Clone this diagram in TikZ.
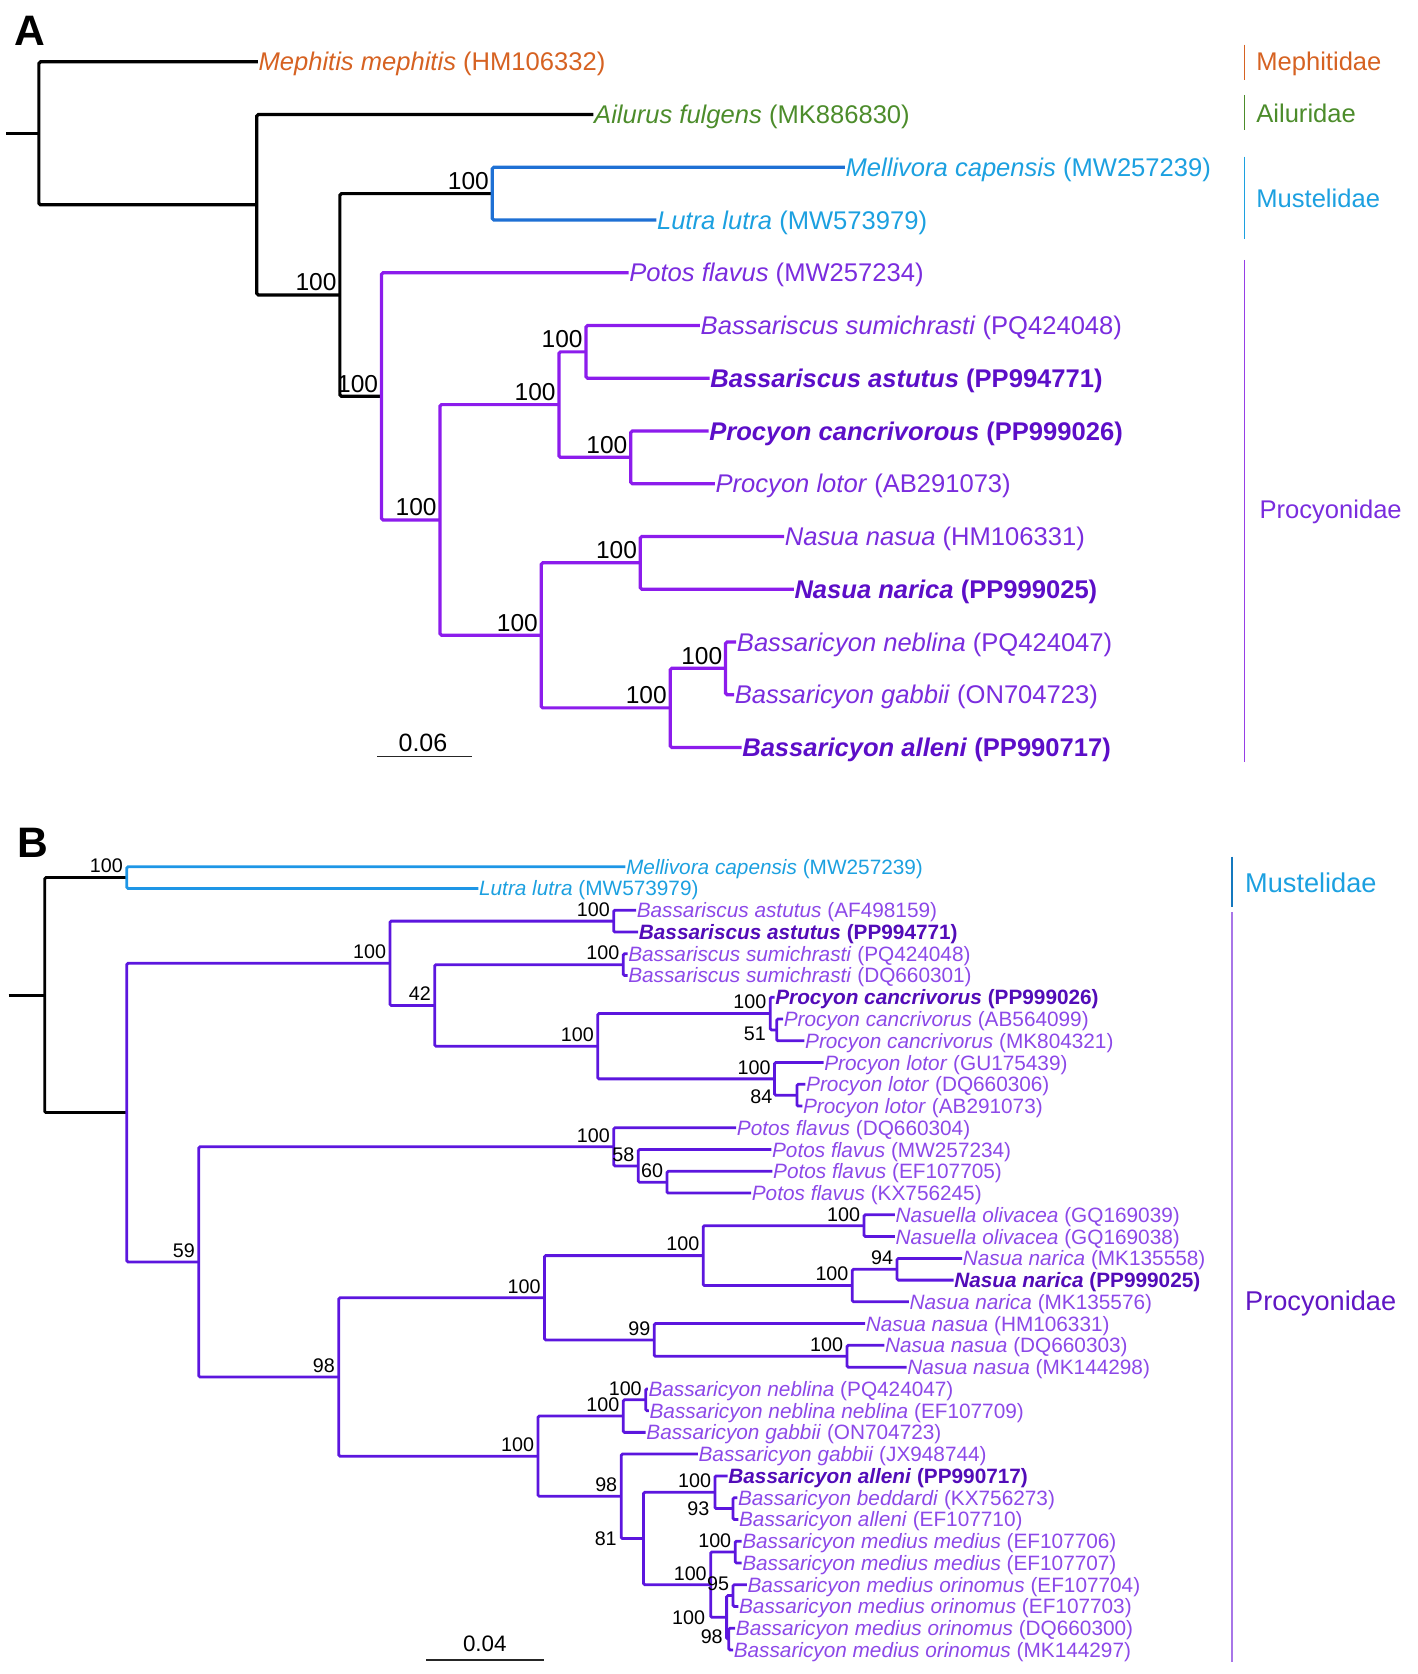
\documentclass[tikz,border=0pt]{standalone}
\usepackage{fontspec}
\setmainfont{Liberation Sans}
\definecolor{mephcol}{RGB}{214, 98, 34}
\definecolor{ailcol}{RGB}{76, 140, 43}
\definecolor{musline}{RGB}{30, 112, 212}
\definecolor{muscol}{RGB}{28, 160, 224}
\definecolor{muslineB}{RGB}{30, 150, 230}
\definecolor{musbarB}{RGB}{20, 120, 190}
\definecolor{proline}{RGB}{140, 28, 236}
\definecolor{procol}{RGB}{122, 44, 222}
\definecolor{probold}{RGB}{92, 14, 200}
\definecolor{probar}{RGB}{150, 62, 230}
\definecolor{prolineB}{RGB}{92, 22, 222}
\definecolor{procolB}{RGB}{140, 72, 232}
\definecolor{proboldB}{RGB}{82, 12, 184}
\definecolor{probarB}{RGB}{168, 118, 232}
\definecolor{protitleB}{RGB}{96, 22, 196}

\tikzset{
	brA/.style={line width=3pt, rounded corners=1.5pt},
	brB/.style={line width=2.6pt, rounded corners=1.2pt},
	leafA/.style={anchor=west, inner xsep=0.5pt, inner ysep=0pt, text height=18pt, text depth=0.8pt, font=\fontsize{24}{24}\selectfont},
	leafB/.style={anchor=west, inner xsep=0.5pt, inner ysep=0pt, text height=14.6pt, text depth=0.6pt, font=\fontsize{19.5}{19.5}\selectfont},
	bsA/.style={anchor=south east, inner sep=0pt, xshift=-3pt, yshift=3.5pt, font=\fontsize{23}{23}\selectfont},
	bsB/.style={anchor=south east, inner sep=0pt, xshift=-3.5pt, yshift=4pt, font=\fontsize{18.5}{18.5}\selectfont},
	bsBe/.style={anchor=east, inner sep=0pt, font=\fontsize{18.5}{18.5}\selectfont},
	cladeA/.style={anchor=west, inner sep=0pt, font=\fontsize{24}{24}\selectfont},
	cladeB/.style={anchor=west, inner sep=0pt, font=\fontsize{25.5}{25.5}\selectfont},
	cladebar/.style={line width=1.6pt},
	scalebar/.style={line width=1.5pt, black!85},
	panel/.style={inner sep=0pt, font=\fontsize{40}{40}\selectfont\bfseries},
}

\begin{document}
\begin{tikzpicture}[x=1pt, y=-1pt]
	\useasboundingbox (0,0) rectangle (1330,1571.2);

	\node[panel] (pA) at (28,29) {A};
	\node[panel] (pB) at (31,791) {B};

	\coordinate (aStub) at (6,125.1);
	\coordinate (aRoot) at (36.5,125.1);
	\coordinate (aN2) at (241,192.2);
	\coordinate (aN3) at (319,276.9);
	\coordinate (aMus) at (462,181.75);
	\coordinate (aPro) at (358,372);
	\coordinate (aPC) at (413,488);
	\coordinate (aBP) at (524.6,379.75);
	\coordinate (aBs) at (550,330.25);
	\coordinate (aPr) at (592,429.25);
	\coordinate (aNB) at (508,596.3);
	\coordinate (aNa) at (601,528.25);
	\coordinate (aBy) at (629,664.4);
	\coordinate (aBc) at (681,627.25);

	\node[leafA, text=mephcol] (m1) at (242,58) {\textit{Mephitis mephitis} (HM106332)};
	\node[leafA, text=ailcol] (m2) at (557,107.5) {\textit{Ailurus fulgens} (MK886830)};
	\node[leafA, text=muscol] (m3) at (793,157) {\textit{Mellivora capensis} (MW257239)};
	\node[leafA, text=muscol] (m4) at (616,206.5) {\textit{Lutra lutra} (MW573979)};
	\node[leafA, text=procol] (m5) at (590,256) {\textit{Potos flavus} (MW257234)};
	\node[leafA, text=procol] (m6) at (657,305.5) {\textit{Bassariscus sumichrasti} (PQ424048)};
	\node[leafA, text=probold] (m7) at (666,355) {\bfseries\textit{Bassariscus astutus} (PP994771)};
	\node[leafA, text=probold] (m8) at (665,404.5) {\bfseries\textit{Procyon cancrivorous} (PP999026)};
	\node[leafA, text=procol] (m9) at (671,454) {\textit{Procyon lotor} (AB291073)};
	\node[leafA, text=procol] (m10) at (736,503.5) {\textit{Nasua nasua} (HM106331)};
	\node[leafA, text=probold] (m11) at (745,553) {\bfseries\textit{Nasua narica} (PP999025)};
	\node[leafA, text=procol] (m12) at (691,602.5) {\textit{Bassaricyon neblina} (PQ424047)};
	\node[leafA, text=procol] (m13) at (689,652) {\textit{Bassaricyon gabbii} (ON704723)};
	\node[leafA, text=probold] (m14) at (696,701.5) {\bfseries\textit{Bassaricyon alleni} (PP990717)};

	\draw[brA] (aStub) -- (aRoot);
	\draw[brA] (aRoot) |- (m1.west) (aRoot) |- (aN2);
	\draw[brA] (aN2) |- (m2.west) (aN2) |- (aN3);
	\draw[brA] (aN3) |- (aMus) (aN3) |- (aPro);
	\draw[brA, musline] (aMus) |- (m3.west) (aMus) |- (m4.west);
	\draw[brA, proline] (aPro) |- (m5.west) (aPro) |- (aPC);
	\draw[brA, proline] (aPC) |- (aBP) (aPC) |- (aNB);
	\draw[brA, proline] (aBP) |- (aBs) (aBP) |- (aPr);
	\draw[brA, proline] (aBs) |- (m6.west) (aBs) |- (m7.west);
	\draw[brA, proline] (aPr) |- (m8.west) (aPr) |- (m9.west);
	\draw[brA, proline] (aNB) |- (aNa) (aNB) |- (aBy);
	\draw[brA, proline] (aNa) |- (m10.west) (aNa) |- (m11.west);
	\draw[brA, proline] (aBy) |- (aBc) (aBy) |- (m14.west);
	\draw[brA, proline] (aBc) |- (m12.west) (aBc) |- (m13.west);

	\node[bsA] (sMusA) at (aMus) {100};
	\node[bsA] (sN3) at (aN3) {100};
	\node[bsA] (sProA) at (aPro) {100};
	\node[bsA] (sPC) at (aPC) {100};
	\node[bsA] (sBP) at (aBP) {100};
	\node[bsA] (sBs) at (aBs) {100};
	\node[bsA] (sPr) at (aPr) {100};
	\node[bsA] (sNB) at (aNB) {100};
	\node[bsA] (sNa) at (aNa) {100};
	\node[bsA] (sBy) at (aBy) {100};
	\node[bsA] (sBc) at (aBc) {100};

	\draw[scalebar] (354,710) -- (443,710);
	\node[inner sep=0pt, font=\fontsize{23.5}{23.5}\selectfont] (scaleA) at (397,697) {0.06};

	\draw[cladebar, mephcol] (1168,42) -- (1168,75);
	\draw[cladebar, ailcol] (1168,89) -- (1168,122);
	\draw[cladebar, muscol] (1168,147) -- (1168,224);
	\draw[cladebar, probar] (1168,244) -- (1168,715);
	\node[cladeA, text=mephcol] (cMeph) at (1179,59.5) {Mephitidae};
	\node[cladeA, text=ailcol] (cAil) at (1179,106) {Ailuridae};
	\node[cladeA, text=muscol] (cMusA) at (1179,186) {Mustelidae};
	\node[cladeA, text=procol] (cProA) at (1182,480) {Procyonidae};

	\coordinate (bStub) at (8,934);
	\coordinate (bRoot) at (42,934);
	\coordinate (bMus) at (119,823.7);
	\coordinate (bPro) at (119,1044.25);
	\coordinate (bC1) at (366,904.1);
	\coordinate (bBast) at (576,864.55);
	\coordinate (bC42) at (408,943.7);
	\coordinate (bBsum) at (585,905.4);
	\coordinate (bProc) at (561,981.95);
	\coordinate (bPcan) at (723,951.3);
	\coordinate (bP51) at (729,966.65);
	\coordinate (bPlot) at (727,1012.6);
	\coordinate (bP84) at (748,1027.9);
	\coordinate (bC2) at (186.5,1184.4);
	\coordinate (bPot) at (576,1076.4);
	\coordinate (bP58) at (599,1094.3);
	\coordinate (bP60) at (626,1109.6);
	\coordinate (bC98) at (318,1292.4);
	\coordinate (bNas) at (511,1218.05);
	\coordinate (bNN) at (660,1178.5);
	\coordinate (bNsl) at (811,1150.4);
	\coordinate (bNnar) at (800,1206.6);
	\coordinate (bN94) at (842,1191.3);
	\coordinate (bN99) at (614,1257.6);
	\coordinate (bN100) at (795,1272.95);
	\coordinate (bBcy) at (505,1366.75);
	\coordinate (bBneb) at (585,1329.1);
	\coordinate (bBnn) at (606,1313.8);
	\coordinate (bB98) at (583,1404.4);
	\coordinate (bB81) at (604,1444);
	\coordinate (bBall) at (671,1400.6);
	\coordinate (bB93) at (688,1415.9);
	\coordinate (bBmed) at (667,1487.35);
	\coordinate (bBmm) at (690,1456.7);
	\coordinate (bB100) at (682,1518);
	\coordinate (bB95) at (688,1497.6);
	\coordinate (bB98c) at (684,1538.4);

	\node[leafB, text=muscol] (l1) at (587,813.5) {\textit{Mellivora capensis} (MW257239)};
	\node[leafB, text=muscol] (l2) at (449,833.9) {\textit{Lutra lutra} (MW573979)};
	\node[leafB, text=procolB] (l3) at (597,854.3) {\textit{Bassariscus astutus} (AF498159)};
	\node[leafB, text=proboldB] (l4) at (599,874.8) {\bfseries\textit{Bassariscus astutus} (PP994771)};
	\node[leafB, text=procolB] (l5) at (589,895.2) {\textit{Bassariscus sumichrasti} (PQ424048)};
	\node[leafB, text=procolB] (l6) at (589,915.6) {\textit{Bassariscus sumichrasti} (DQ660301)};
	\node[leafB, text=proboldB] (l7) at (727,936) {\bfseries\textit{Procyon cancrivorus} (PP999026)};
	\node[leafB, text=procolB] (l8) at (735,956.4) {\textit{Procyon cancrivorus} (AB564099)};
	\node[leafB, text=procolB] (l9) at (755,976.9) {\textit{Procyon cancrivorus} (MK804321)};
	\node[leafB, text=procolB] (l10) at (773,997.3) {\textit{Procyon lotor} (GU175439)};
	\node[leafB, text=procolB] (l11) at (756,1017.7) {\textit{Procyon lotor} (DQ660306)};
	\node[leafB, text=procolB] (l12) at (753,1038.1) {\textit{Procyon lotor} (AB291073)};
	\node[leafB, text=procolB] (l13) at (691,1058.5) {\textit{Potos flavus} (DQ660304)};
	\node[leafB, text=procolB] (l14) at (724,1079) {\textit{Potos flavus} (MW257234)};
	\node[leafB, text=procolB] (l15) at (725,1099.4) {\textit{Potos flavus} (EF107705)};
	\node[leafB, text=procolB] (l16) at (705,1119.8) {\textit{Potos flavus} (KX756245)};
	\node[leafB, text=procolB] (l17) at (840,1140.2) {\textit{Nasuella olivacea} (GQ169039)};
	\node[leafB, text=procolB] (l18) at (840,1160.6) {\textit{Nasuella olivacea} (GQ169038)};
	\node[leafB, text=procolB] (l19) at (903,1181.1) {\textit{Nasua narica} (MK135558)};
	\node[leafB, text=proboldB] (l20) at (895,1201.5) {\bfseries\textit{Nasua narica} (PP999025)};
	\node[leafB, text=procolB] (l21) at (853,1221.9) {\textit{Nasua narica} (MK135576)};
	\node[leafB, text=procolB] (l22) at (812,1242.3) {\textit{Nasua nasua} (HM106331)};
	\node[leafB, text=procolB] (l23) at (830,1262.7) {\textit{Nasua nasua} (DQ660303)};
	\node[leafB, text=procolB] (l24) at (851,1283.2) {\textit{Nasua nasua} (MK144298)};
	\node[leafB, text=procolB] (l25) at (608,1303.6) {\textit{Bassaricyon neblina} (PQ424047)};
	\node[leafB, text=procolB] (l26) at (609,1324) {\textit{Bassaricyon neblina neblina} (EF107709)};
	\node[leafB, text=procolB] (l27) at (606,1344.4) {\textit{Bassaricyon gabbii} (ON704723)};
	\node[leafB, text=procolB] (l28) at (655,1364.8) {\textit{Bassaricyon gabbii} (JX948744)};
	\node[leafB, text=proboldB] (l29) at (683,1385.3) {\bfseries\textit{Bassaricyon alleni} (PP990717)};
	\node[leafB, text=procolB] (l30) at (692,1405.7) {\textit{Bassaricyon beddardi} (KX756273)};
	\node[leafB, text=procolB] (l31) at (693,1426.1) {\textit{Bassaricyon alleni} (EF107710)};
	\node[leafB, text=procolB] (l32) at (696,1446.5) {\textit{Bassaricyon medius medius} (EF107706)};
	\node[leafB, text=procolB] (l33) at (696,1466.9) {\textit{Bassaricyon medius medius} (EF107707)};
	\node[leafB, text=procolB] (l34) at (701,1487.4) {\textit{Bassaricyon medius orinomus} (EF107704)};
	\node[leafB, text=procolB] (l35) at (693,1507.8) {\textit{Bassaricyon medius orinomus} (EF107703)};
	\node[leafB, text=procolB] (l36) at (690,1528.2) {\textit{Bassaricyon medius orinomus} (DQ660300)};
	\node[leafB, text=procolB] (l37) at (688,1548.6) {\textit{Bassaricyon medius orinomus} (MK144297)};

	\draw[brB] (bStub) -- (bRoot);
	\draw[brB] (bRoot) |- (bMus) (bRoot) |- (bPro);
	\draw[brB, muslineB] (bMus) |- (l1.west) (bMus) |- (l2.west);
	\draw[brB, prolineB] (bPro) |- (bC1) (bPro) |- (bC2);
	\draw[brB, prolineB] (bC1) |- (bBast) (bC1) |- (bC42);
	\draw[brB, prolineB] (bBast) |- (l3.west) (bBast) |- (l4.west);
	\draw[brB, prolineB] (bC42) |- (bBsum) (bC42) |- (bProc);
	\draw[brB, prolineB] (bBsum) |- (l5.west) (bBsum) |- (l6.west);
	\draw[brB, prolineB] (bProc) |- (bPcan) (bProc) |- (bPlot);
	\draw[brB, prolineB] (bPcan) |- (l7.west) (bPcan) |- (bP51);
	\draw[brB, prolineB] (bP51) |- (l8.west) (bP51) |- (l9.west);
	\draw[brB, prolineB] (bPlot) |- (l10.west) (bPlot) |- (bP84);
	\draw[brB, prolineB] (bP84) |- (l11.west) (bP84) |- (l12.west);
	\draw[brB, prolineB] (bC2) |- (bPot) (bC2) |- (bC98);
	\draw[brB, prolineB] (bPot) |- (l13.west) (bPot) |- (bP58);
	\draw[brB, prolineB] (bP58) |- (l14.west) (bP58) |- (bP60);
	\draw[brB, prolineB] (bP60) |- (l15.west) (bP60) |- (l16.west);
	\draw[brB, prolineB] (bC98) |- (bNas) (bC98) |- (bBcy);
	\draw[brB, prolineB] (bNas) |- (bNN) (bNas) |- (bN99);
	\draw[brB, prolineB] (bNN) |- (bNsl) (bNN) |- (bNnar);
	\draw[brB, prolineB] (bNsl) |- (l17.west) (bNsl) |- (l18.west);
	\draw[brB, prolineB] (bNnar) |- (bN94) (bNnar) |- (l21.west);
	\draw[brB, prolineB] (bN94) |- (l19.west) (bN94) |- (l20.west);
	\draw[brB, prolineB] (bN99) |- (l22.west) (bN99) |- (bN100);
	\draw[brB, prolineB] (bN100) |- (l23.west) (bN100) |- (l24.west);
	\draw[brB, prolineB] (bBcy) |- (bBneb) (bBcy) |- (bB98);
	\draw[brB, prolineB] (bBneb) |- (bBnn) (bBneb) |- (l27.west);
	\draw[brB, prolineB] (bBnn) |- (l25.west) (bBnn) |- (l26.west);
	\draw[brB, prolineB] (bB98) |- (l28.west) (bB98) |- (bB81);
	\draw[brB, prolineB] (bB81) |- (bBall) (bB81) |- (bBmed);
	\draw[brB, prolineB] (bBall) |- (l29.west) (bBall) |- (bB93);
	\draw[brB, prolineB] (bB93) |- (l30.west) (bB93) |- (l31.west);
	\draw[brB, prolineB] (bBmed) |- (bBmm) (bBmed) |- (bB100);
	\draw[brB, prolineB] (bBmm) |- (l32.west) (bBmm) |- (l33.west);
	\draw[brB, prolineB] (bB100) |- (bB95) (bB100) |- (bB98c);
	\draw[brB, prolineB] (bB95) |- (l34.west) (bB95) |- (l35.west);
	\draw[brB, prolineB] (bB98c) |- (l36.west) (bB98c) |- (l37.west);

	\node[bsB] (sMusB) at (bMus) {100};
	\node[bsB] (sC1) at (bC1) {100};
	\node[bsB] (sBast) at (bBast) {100};
	\node[bsB] (sC42) at (bC42) {42};
	\node[bsB] (sBsum) at (bBsum) {100};
	\node[bsB] (sProc) at (bProc) {100};
	\node[bsB] (sPcan) at (bPcan) {100};
	\node[bsBe] (sP51) at ([xshift=-10pt, yshift=-4pt]bP51) {51};
	\node[bsB] (sPlot) at (bPlot) {100};
	\node[bsBe] (sP84) at ([xshift=-23pt, yshift=-1pt]bP84) {84};
	\node[bsB] (sC2) at (bC2) {59};
	\node[bsB] (sPot) at (bPot) {100};
	\node[bsB] (sP58) at (bP58) {58};
	\node[bsB] (sP60) at (bP60) {60};
	\node[bsB] (sC98) at (bC98) {98};
	\node[bsB] (sNas) at (bNas) {100};
	\node[bsB] (sNN) at (bNN) {100};
	\node[bsB] (sNsl) at (bNsl) {100};
	\node[bsB] (sNnar) at (bNnar) {100};
	\node[bsB] (sN94) at (bN94) {94};
	\node[bsB] (sN99) at (bN99) {99};
	\node[bsB] (sN100) at (bN100) {100};
	\node[bsB] (sBcy) at (bBcy) {100};
	\node[bsB] (sBneb) at (bBneb) {100};
	\node[bsB] (sBnn) at (bBnn) {100};
	\node[bsB] (sB98) at (bB98) {98};
	\node[bsBe] (sB81) at ([xshift=-25pt]bB81) {81};
	\node[bsB] (sBall) at (bBall) {100};
	\node[bsBe] (sB93) at ([xshift=-22pt]bB93) {93};
	\node[bsB] (sBmed) at (bBmed) {100};
	\node[bsB] (sBmm) at (bBmm) {100};
	\node[bsBe] (sB100) at ([xshift=-20pt]bB100) {100};
	\node[bsB] (sB95) at (bB95) {95};
	\node[bsBe] (sB98c) at ([xshift=-5.5pt, yshift=2pt]bB98c) {98};

	\draw[scalebar] (400,1558) -- (511,1558);
	\node[inner sep=0pt, font=\fontsize{21}{21}\selectfont] (scaleB) at (455,1543) {0.04};

	\draw[cladebar, musbarB] (1156,804) -- (1156,851);
	\draw[cladebar, probarB] (1156,856) -- (1156,1560);
	\node[cladeB, text=muscol] (cMusB) at (1168.5,829) {Mustelidae};
	\node[cladeB, text=protitleB] (cProB) at (1168.5,1223) {Procyonidae};
\end{tikzpicture}
\end{document}
